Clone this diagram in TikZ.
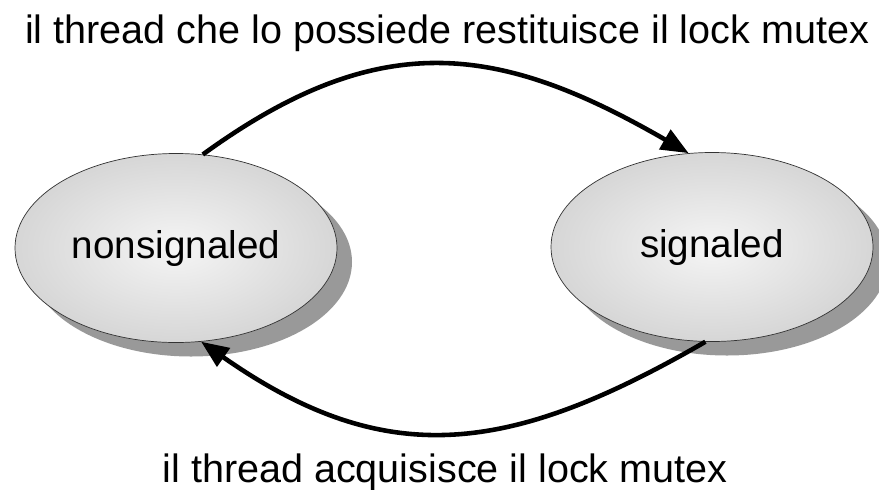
\documentclass[tikz,border=0pt]{standalone}
\usepackage{fontspec}
\setmainfont{Liberation Sans}
\usetikzlibrary{positioning, arrows.meta, shapes.geometric, shadows}

\begin{document}
\begin{tikzpicture}[
    state/.style={ellipse, draw=black!80, thin, minimum width=6.44cm, minimum height=3.78cm, inner sep=0pt,
        shading=radial, inner color=gray!8, outer color=gray!32,
        drop shadow={shadow xshift=0.3cm, shadow yshift=-0.28cm, fill=black!40, opacity=1},
        font=\fontsize{22}{26}\selectfont},
    lbl/.style={anchor=base, font=\fontsize{22.5}{27}\selectfont},
    arr/.style={-{Triangle[length=0.55cm, width=0.44cm]}, line width=2.6pt, looseness=1.15},
]
\useasboundingbox (0,0) rectangle (17.58,-9.78);

% === States ===
\node[state] at (3.52, -4.96) (nonsig) {nonsignaled};
\node[state] at (14.24, -4.94) (sig) {signaled};

% === Transitions ===
\draw[arr] (nonsig.74) to[out=36, in=150] (sig.104);
\draw[arr] (sig.266) to[out=210, in=-35] (nonsig.285);

% === Labels ===
\node[lbl] at (8.94, -0.86) (release) {il thread che lo possiede restituisce il lock mutex};
\node[lbl] at (8.90, -9.64) (acquire) {il thread acquisisce il lock mutex};

\end{tikzpicture}
\end{document}
